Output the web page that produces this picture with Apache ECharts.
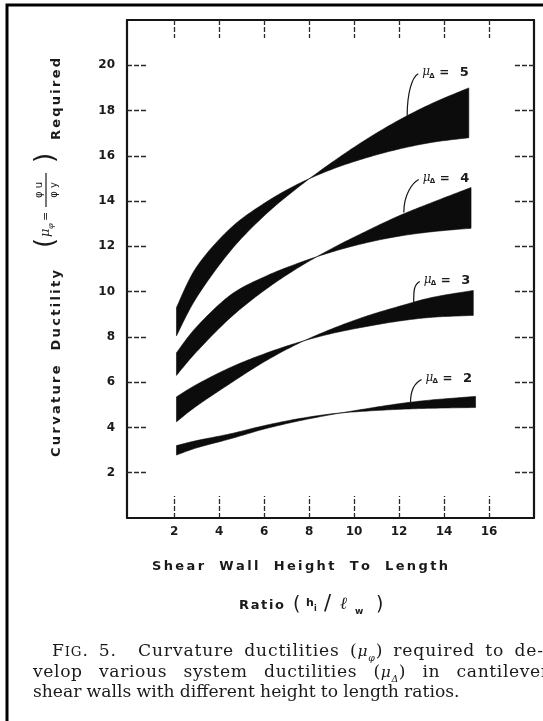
<!DOCTYPE html>
<html><head><meta charset="utf-8">
<script src="https://cdn.jsdelivr.net/npm/echarts@6/dist/echarts.min.js"></script>
<style>html,body{margin:0;padding:0;background:#fff}#c{width:543px;height:721px}</style>
</head><body><div id="c"></div>
<script>
// ---- data ----
const xTicks = [2, 4, 6, 8, 10, 12, 14, 16];
const yTicks = [2, 4, 6, 8, 10, 12, 14, 16, 18, 20];

const xs5 = [2.1, 3, 4.5, 6, 7.5, 9, 10.5, 12, 13.5, 15.1];
const mu5A = [9.3, 11.1, 12.8, 13.9, 14.75, 15.4, 15.9, 16.3, 16.6, 16.8];
const mu5B = [8.05, 9.75, 11.8, 13.35, 14.6, 15.7, 16.7, 17.58, 18.33, 19.0];

const xs4 = [2.1, 3, 4.5, 6, 7.5, 9, 10.5, 12, 13.5, 15.2];
const mu4A = [7.3, 8.45, 9.85, 10.65, 11.25, 11.75, 12.15, 12.45, 12.65, 12.8];
const mu4B = [6.3, 7.35, 8.85, 10.05, 11.05, 11.9, 12.65, 13.35, 13.95, 14.6];

const xs3 = [2.1, 3, 4.5, 6, 7.5, 9, 10.5, 12, 13.5, 15.3];
const mu3A = [5.35, 5.9, 6.65, 7.25, 7.75, 8.15, 8.45, 8.7, 8.87, 8.95];
const mu3B = [4.25, 4.95, 5.95, 6.9, 7.7, 8.35, 8.9, 9.35, 9.75, 10.05];

const xs2 = [2.1, 3, 4.5, 6, 7.5, 9, 10.5, 12, 13.5, 15.4];
const mu2A = [3.2, 3.42, 3.72, 4.08, 4.38, 4.6, 4.72, 4.8, 4.85, 4.88];
const mu2B = [2.78, 3.1, 3.5, 3.93, 4.28, 4.57, 4.82, 5.05, 5.22, 5.37];

const bandNames = ['5', '4', '3', '2'];
// annotation anchors (data coords): label left-middle, leader tip on band
const annLabel = [[13.03, 19.67], [13.05, 15.0], [13.1, 10.49], [13.18, 6.16]];
const annTip = [[12.36, 17.77], [12.21, 13.5], [12.65, 9.53], [12.51, 5.12]];

// ---- helpers ----
const cv = document.createElement('canvas').getContext('2d');
function tw(s, font) { cv.font = font; return cv.measureText(s).width; }
function T(text, font, x, y, align, extra) {
  return Object.assign({
    type: 'text', x: x, y: y, silent: true,
    style: { text: text, font: font, fill: '#1a1a1a', align: align || 'left', verticalAlign: 'middle',
             textAlign: align || 'left', textVerticalAlign: 'middle' }
  }, extra || {});
}
function spreadChars(str, font, x0, x1, y, wordExtra) {
  const chars = [...str];
  const ws = chars.map(c => tw(c, font));
  const sum = ws.reduce((a, b) => a + b, 0);
  const nSp = chars.filter(c => c === ' ').length;
  const ls = (x1 - x0 - sum) / ((chars.length - 1) + nSp * wordExtra);
  let x = x0; const els = [];
  chars.forEach((c, i) => {
    if (c !== ' ') els.push(T(c, font, x, y));
    x += ws[i] + ls + (c === ' ' ? wordExtra * ls : 0);
  });
  return els;
}
function smoothPts(p) {
  const out = [];
  for (let i = 0; i < p.length - 1; i++) {
    const p0 = p[Math.max(i - 1, 0)], p1 = p[i], p2 = p[i + 1], p3 = p[Math.min(i + 2, p.length - 1)];
    for (let k = 0; k < 12; k++) {
      const t = k / 12, t2 = t * t, t3 = t2 * t;
      out.push([0, 1].map(j => 0.5 * ((2 * p1[j]) + (-p0[j] + p2[j]) * t +
        (2 * p0[j] - 5 * p1[j] + 4 * p2[j] - p3[j]) * t2 + (-p0[j] + 3 * p1[j] - 3 * p2[j] + p3[j]) * t3)));
    }
  }
  out.push(p[p.length - 1]);
  return out;
}
function band(name, xs, a, b) {
  const rows = xs.map((x, i) => [x, a[i], b[i]]);
  return {
    name: 'μΔ = ' + name, type: 'custom', coordinateSystem: 'cartesian2d', clip: false,
    data: rows, encode: { x: 0, y: [1, 2] },
    renderItem: function (params, api) {
      if (params.dataIndex !== 0) return null;
      const up = rows.map(r => api.coord([r[0], r[1]]));
      const lo = rows.map(r => api.coord([r[0], r[2]]));
      const pts = smoothPts(up).concat(smoothPts(lo).reverse());
      return { type: 'polygon', shape: { points: pts },
               style: { fill: '#0c0c0c', stroke: '#0c0c0c', lineWidth: 0.6 } };
    }
  };
}

const axisLineStyle = { color: '#151515', width: 2.2 };
const tickStyle = { color: '#2a2a2a', width: 1.3, type: [5, 2] };
const labelFont = { color: '#1a1a1a', fontFamily: 'DejaVu Sans', fontWeight: 'bold', fontSize: 12 };

const chart = echarts.init(document.getElementById('c'), null, { renderer: 'canvas', width: 543, height: 721 });
const option = {
  animation: false,
  backgroundColor: '#ffffff',
  grid: { left: 127, right: 9, top: 20, bottom: 203 },
  xAxis: [
    { type: 'value', min: -0.1, max: 18, position: 'bottom',
      axisLine: { show: true, onZero: false, lineStyle: axisLineStyle },
      axisTick: { show: true, inside: true, length: 22, customValues: xTicks, lineStyle: tickStyle },
      axisLabel: Object.assign({ show: true, margin: 8, customValues: xTicks }, labelFont),
      splitLine: { show: false } },
    { type: 'value', min: -0.1, max: 18, position: 'top',
      axisLine: { show: true, onZero: false, lineStyle: axisLineStyle },
      axisTick: { show: true, inside: true, length: 18, customValues: xTicks, lineStyle: tickStyle },
      axisLabel: { show: false }, splitLine: { show: false } }
  ],
  yAxis: [
    { type: 'value', min: 0, max: 22, position: 'left',
      axisLine: { show: true, onZero: false, lineStyle: axisLineStyle },
      axisTick: { show: true, inside: true, length: 21, customValues: yTicks, lineStyle: tickStyle },
      axisLabel: Object.assign({ show: true, margin: 12, customValues: yTicks }, labelFont),
      splitLine: { show: false } },
    { type: 'value', min: 0, max: 22, position: 'right',
      axisLine: { show: true, onZero: false, lineStyle: axisLineStyle },
      axisTick: { show: true, inside: true, length: 21, customValues: yTicks, lineStyle: tickStyle },
      axisLabel: { show: false }, splitLine: { show: false } }
  ],
  series: [
    band(bandNames[0], xs5, mu5A, mu5B),
    band(bandNames[1], xs4, mu4A, mu4B),
    band(bandNames[2], xs3, mu3A, mu3B),
    band(bandNames[3], xs2, mu2A, mu2B)
  ]
};
chart.setOption(option);

// ---- static texts ----
const g = [];
// outer figure border
g.push({ type: 'rect', silent: true, shape: { x: 7, y: 5, width: 620, height: 800 },
         style: { fill: null, stroke: '#000', lineWidth: 3 } });

const bf = 'bold 13px "DejaVu Sans"';
// x title
spreadChars('Shear Wall Height To Length', bf, 152, 448, 566.5, 2.5).forEach(e => g.push(e));
spreadChars('Ratio', bf, 239, 284, 605.5, 1).forEach(e => g.push(e));
g.push(T('(', '19px "DejaVu Sans"', 293, 605));
g.push(T('h', 'bold 11px "DejaVu Sans"', 306, 603));
g.push(T('i', 'bold 8px "DejaVu Sans"', 314, 609));
g.push(T('/', '21px "DejaVu Sans"', 324, 605));
g.push(T('ℓ', 'italic 17px "DejaVu Serif"', 340, 605));
g.push(T('w', 'bold 9px "DejaVu Sans"', 355, 612));
g.push(T(')', '19px "DejaVu Sans"', 376, 605));

// y title (rotated group)
const yc = [];
spreadChars('Curvature Ductility', bf, -200, -13, 0, 2.5).forEach(e => yc.push(e));
spreadChars('Required', bf, 117, 199, 0, 1.5).forEach(e => yc.push(e));
yc.push(T('(', '26px "DejaVu Sans"', 9, -11));
yc.push(T('μ', 'italic 13px "DejaVu Serif"', 20, -11));
yc.push(T('φ', 'italic 8px "DejaVu Serif"', 28, -6));
yc.push(T('=', '11px "DejaVu Sans"', 36, -11));
yc.push({ type: 'line', silent: true, shape: { x1: 50, y1: -11, x2: 84, y2: -11 }, style: { stroke: '#1a1a1a', lineWidth: 1.2 } });
yc.push(T('φ u', '10px "DejaVu Sans"', 67, -18, 'center'));
yc.push(T('φ y', '10px "DejaVu Sans"', 67, -3, 'center'));
yc.push(T(')', '26px "DejaVu Sans"', 94, -11));
g.push({ type: 'group', x: 57, y: 257, rotation: Math.PI / 2, children: yc });

// caption
const capBase = 17;
const line3 = 'shear walls with different height to length ratios.';
const capSize = 1.04 * Math.max(14, Math.min(19, capBase * 412 / tw(line3, capBase + 'px "DejaVu Serif"')));
const cs = {
  n: capSize + 'px "DejaVu Serif"', sc: (capSize * 0.78).toFixed(1) + 'px "DejaVu Serif"',
  it: 'italic ' + (capSize * 0.9).toFixed(1) + 'px "DejaVu Serif"', sub: 'italic ' + (capSize * 0.55).toFixed(1) + 'px "DejaVu Serif"'
};
const csz = { n: capSize, sc: capSize * 0.78, it: capSize * 0.9, sub: capSize * 0.55 };
const cdy = { n: 0, sc: 0, it: 0, sub: capSize * 0.25 };
const W = (t) => [[t, 'n']];
const captionLines = [
  { base: 657, x0: 52, x1: 543, tg: 11, words: [
    { s: [['F', 'n'], ['IG', 'sc'], ['.', 'n']] }, { s: W('5.') }, { s: W('Curvature'), g: 2 },
    { s: W('ductilities') }, { s: [['(', 'n'], ['μ', 'it'], ['φ', 'sub'], [')', 'n']] },
    { s: W('required') }, { s: W('to') }, { s: W('de-') }] },
  { base: 678, x0: 33, x1: 549, tg: 17, words: [
    { s: W('velop') }, { s: W('various') }, { s: W('system') }, { s: W('ductilities') },
    { s: [['(', 'n'], ['μ', 'it'], ['Δ', 'sub'], [')', 'n']] }, { s: W('in') }, { s: W('cantilever') }] },
  { base: 698, x0: 33, x1: null, words: line3.split(' ').map(w => ({ s: W(w) })) }
];
captionLines.forEach(L => {
  const widths = L.words.map(w => w.s.reduce((a, sg) => a + tw(sg[0], cs[sg[1]]), 0));
  const tot = widths.reduce((a, b) => a + b, 0);
  const nChars = L.words.reduce((a, w) => a + w.s.reduce((b, sg) => b + [...sg[0]].length, 0), 0);
  const wts = L.words.slice(1).reduce((a, w) => a + (w.g || 1), 0);
  let ls = 0, gap;
  if (L.x1 != null) {
    gap = (L.x1 - L.x0 - tot) / wts;
    if (L.tg && gap > L.tg) {
      ls = (L.x1 - L.x0 - tot - wts * L.tg) / (nChars - L.words.length);
      gap = L.tg;
    }
  } else gap = tw(' ', cs.n) * 0.95;
  let x = L.x0;
  L.words.forEach((w, i) => {
    if (i > 0) x += gap * (w.g || 1);
    w.s.forEach(sg => {
      const f = cs[sg[1]];
      const yy = L.base - 0.33 * csz[sg[1]] + cdy[sg[1]];
      if (ls === 0) { g.push(T(sg[0], f, x, yy)); x += tw(sg[0], f); }
      else [...sg[0]].forEach(ch => { g.push(T(ch, f, x, yy)); x += tw(ch, f) + ls; });
    });
    if (ls !== 0) x -= ls;
  });
});

// annotations (positioned through the chart's scales)
bandNames.forEach((nm, i) => {
  const lp = chart.convertToPixel({ gridIndex: 0 }, annLabel[i]);
  const tp = chart.convertToPixel({ gridIndex: 0 }, annTip[i]);
  const sx = lp[0] - 4, sy = lp[1] + 1;
  g.push({ type: 'bezierCurve', silent: true,
    shape: { x1: sx, y1: sy, cpx1: sx - 6, cpy1: sy + 3, cpx2: tp[0], cpy2: tp[1] - (tp[1] - sy) * 0.55, x2: tp[0], y2: tp[1] },
    style: { stroke: '#151515', lineWidth: 1.2, fill: null } });
  g.push(T('μ', 'italic 12px "DejaVu Serif"', lp[0], lp[1] - 1));
  g.push(T('Δ', 'bold 7px "DejaVu Sans"', lp[0] + 7, lp[1] + 3));
  g.push(T('=', 'bold 12px "DejaVu Sans"', lp[0] + 22, lp[1], 'center'));
  g.push(T(nm, 'bold 13px "DejaVu Sans"', lp[0] + 42, lp[1], 'center'));
});

chart.setOption({ graphic: { elements: g } });
</script>
</body></html>
